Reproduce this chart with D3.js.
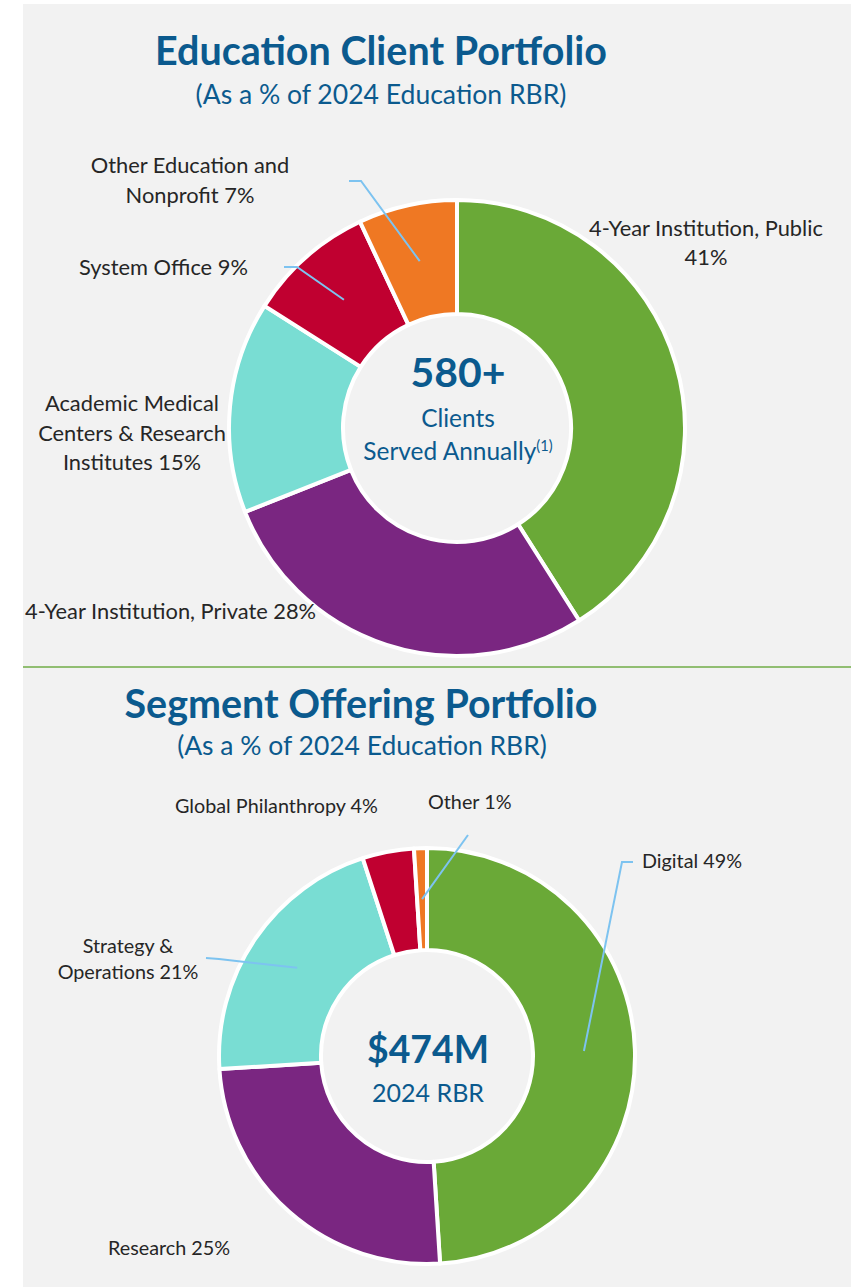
<!DOCTYPE html>
<html>
<head>
<meta charset="utf-8">
<script src="https://cdn.jsdelivr.net/npm/d3@7"></script>
<style>
  body { margin: 0; background: #fff; }
  svg { display: block; }
</style>
</head>
<body>
<script>
const FONT = 'Lato, "Open Sans", sans-serif';

// Slice data (clockwise from 12 o'clock)
const clientLabels = ['4-Year Institution, Public\n', '4-Year Institution, Private', 'Academic Medical\nCenters & Research\nInstitutes', 'System Office', 'Other Education and\nNonprofit'];
const clientValues = [41, 28, 15, 9, 7];
const offeringLabels = ['Digital', 'Research', 'Strategy &\nOperations', 'Global Philanthropy', 'Other'];
const offeringValues = [49, 25, 21, 4, 1];
const sliceColors = ['#6aa937', '#7a2681', '#79ddd3', '#c00030', '#ef7823'];

const width = 851;
const height = 1287;
const titleColor = '#0b5a8e';
const labelColor = '#262626';
const leaderColor = '#7dc3f0';

const svg = d3.select('body').append('svg')
    .attr('width', width)
    .attr('height', height)
    .style('font-family', FONT);

svg.append('rect').attr('x', 23).attr('y', 4).attr('width', width - 23).attr('height', height - 4).attr('fill', '#f2f2f2');

svg.append('line')
    .attr('x1', 23).attr('x2', width)
    .attr('y1', 667).attr('y2', 667)
    .attr('stroke', '#70ad47').attr('stroke-width', 1.5);

// hidden text used to size fonts to the widths in the picture
const measure = svg.append('text').attr('visibility', 'hidden');
function fitSize(str, weight, w) {
    measure.attr('font-weight', weight).attr('font-size', 100).text(str);
    return 100 * w / measure.node().getComputedTextLength();
}

function addText(str, x, y, size, weight, color, anchor) {
    return svg.append('text')
        .attr('x', x).attr('y', y)
        .attr('font-size', size)
        .attr('font-weight', weight)
        .attr('fill', color)
        .attr('text-anchor', anchor || 'middle')
        .text(str);
}

function drawDonut(cfg) {
    const pie = d3.pie().sort(null).value(d => d);
    const arc = d3.arc().innerRadius(cfg.inner).outerRadius(cfg.outer);
    const arcs = pie(cfg.values);
    const g = svg.append('g').attr('transform', `translate(${cfg.cx},${cfg.cy})`);

    g.selectAll('path')
        .data(arcs)
        .join('path')
        .attr('d', arc)
        .attr('fill', (d, i) => sliceColors[i])
        .attr('stroke', '#fff')
        .attr('stroke-width', 4)
        .attr('stroke-linejoin', 'round');

    // leader lines start at slice centroids
    cfg.leaders.forEach(ld => {
        const c = arc.centroid(arcs[ld.index]);
        const pts = [[c[0] + cfg.cx, c[1] + cfg.cy]].concat(ld.points);
        svg.append('path')
            .attr('d', d3.line()(pts))
            .attr('fill', 'none')
            .attr('stroke', leaderColor)
            .attr('stroke-width', 2);
    });

    // slice labels
    cfg.labels.forEach((lab, i) => {
        const lines = (lab + ' ' + cfg.values[i] + '%').split('\n').map(s => s.trim());
        const p = cfg.labelPos[i];
        lines.forEach((line, j) => {
            addText(line, p.x, p.y + j * p.lh, cfg.labelSize, 400, labelColor, p.anchor);
        });
    });
}

// ---- Education Client Portfolio ----
const t1 = 'Education Client Portfolio';
addText(t1, 381, 65, fitSize(t1, 700, 452), 700, titleColor);
const s1 = '(As a % of 2024 Education RBR)';
addText(s1, 381, 104, fitSize(s1, 400, 371), 400, titleColor);

drawDonut({
    cx: 457, cy: 428, inner: 114, outer: 228,
    values: clientValues,
    labels: clientLabels,
    labelSize: fitSize('System Office 9%', 400, 169),
    labelPos: [
        { x: 706, y: 236, lh: 29, anchor: 'middle' },
        { x: 25, y: 619, lh: 29, anchor: 'start' },
        { x: 132, y: 411, lh: 29.5, anchor: 'middle' },
        { x: 79, y: 275, lh: 29, anchor: 'start' },
        { x: 190, y: 173, lh: 29.5, anchor: 'middle' }
    ],
    leaders: [
        { index: 4, points: [[361, 181], [349, 181]] },
        { index: 3, points: [[297, 267], [284, 267]] }
    ]
});

addText('580+', 458, 387, fitSize('580+', 700, 95), 700, titleColor);
const centerSize = fitSize('Served Annually', 400, 173);
addText('Clients', 458, 427, centerSize, 400, titleColor);
const served = addText('Served Annually', 458, 460, centerSize, 400, titleColor);
served.append('tspan')
    .attr('font-size', centerSize * 0.6)
    .attr('dy', -9)
    .text('(1)');

// ---- Segment Offering Portfolio ----
const t2 = 'Segment Offering Portfolio';
addText(t2, 361, 718, fitSize(t2, 700, 473), 700, titleColor);
addText(s1, 362, 755, fitSize(s1, 400, 370), 400, titleColor);

drawDonut({
    cx: 427, cy: 1056, inner: 106, outer: 208,
    values: offeringValues,
    labels: offeringLabels,
    labelSize: fitSize('Global Philanthropy 4%', 400, 203),
    labelPos: [
        { x: 642, y: 868, lh: 25, anchor: 'start' },
        { x: 108, y: 1255, lh: 25, anchor: 'start' },
        { x: 128, y: 953, lh: 25.5, anchor: 'middle' },
        { x: 175, y: 813, lh: 25, anchor: 'start' },
        { x: 428, y: 809, lh: 25, anchor: 'start' }
    ],
    leaders: [
        { index: 0, points: [[622, 862], [633, 862]] },
        { index: 2, points: [[219, 959], [206, 958]] },
        { index: 4, points: [[468, 835]] }
    ]
});

addText('$474M', 428, 1063, fitSize('$474M', 700, 122), 700, titleColor);
addText('2024 RBR', 428, 1102, fitSize('2024 RBR', 400, 112), 400, titleColor);

measure.remove();
</script>
</body>
</html>
